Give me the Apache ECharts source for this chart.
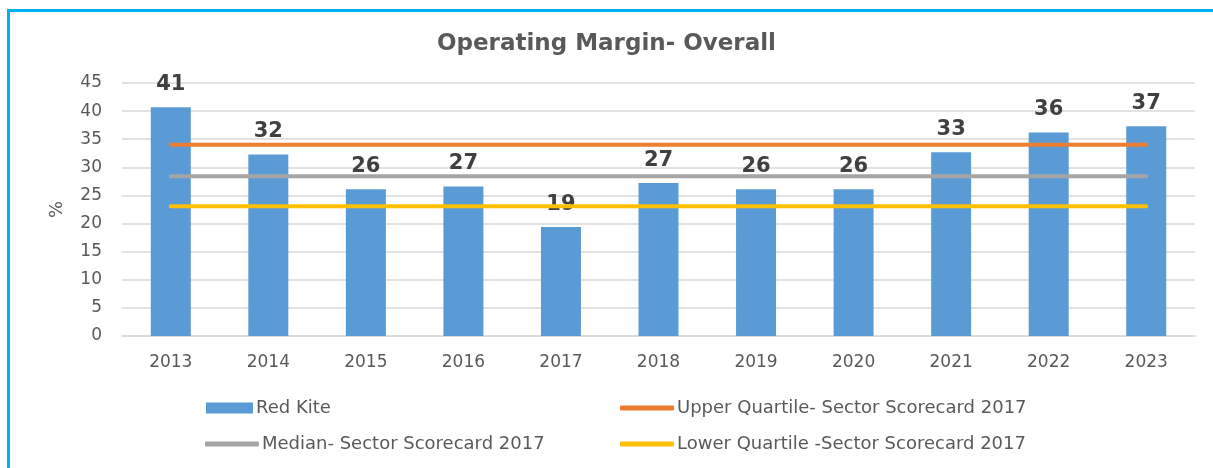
<!DOCTYPE html>
<html>
<head>
<meta charset="utf-8">
<script src="https://cdn.jsdelivr.net/npm/echarts@6/dist/echarts.min.js"></script>
<style>
html,body{margin:0;padding:0;background:#fff;overflow:hidden;}
#c{width:1213px;height:468px;}
</style>
</head>
<body>
<div id="c"></div>
<script>
const categories = ['2013','2014','2015','2016','2017','2018','2019','2020','2021','2022','2023'];
const redKite = [40.7, 32.3, 26.1, 26.6, 19.4, 27.2, 26.1, 26.1, 32.7, 36.2, 37.3];
const upperQuartile = [34.0, 34.0, 34.0, 34.0, 34.0, 34.0, 34.0, 34.0, 34.0, 34.0, 34.0];
const median = [28.4, 28.4, 28.4, 28.4, 28.4, 28.4, 28.4, 28.4, 28.4, 28.4, 28.4];
const lowerQuartile = [23.1, 23.1, 23.1, 23.1, 23.1, 23.1, 23.1, 23.1, 23.1, 23.1, 23.1];
const yTicks = [0, 5, 10, 15, 20, 25, 30, 35, 40, 45];

const textColor = '#595959';
const font = 'DejaVu Sans';
const chart = echarts.init(document.getElementById('c'));

function legendItem(name, left, top, w, h, icon) {
  return {
    data: [{name: name, icon: icon}],
    left: left, top: top, itemWidth: w, itemHeight: h, itemGap: 4,
    selectedMode: false,
    textStyle: {color: textColor, fontFamily: font, fontSize: 18, padding: [0,0,0,-2]}
  };
}

chart.setOption({
  animation: false,
  backgroundColor: '#fff',
  title: {
    text: 'Operating Margin- Overall',
    left: 'center', top: 28,
    textStyle: {color: textColor, fontFamily: font, fontSize: 23, fontWeight: 'bold'}
  },
  graphic: [
    {type: 'line', silent: true, shape: {x1: 8.5, y1: 10.5, x2: 1213, y2: 10.5},
     style: {stroke: '#00B0F0', lineWidth: 3}},
    {type: 'line', silent: true, shape: {x1: 8.5, y1: 9, x2: 8.5, y2: 468},
     style: {stroke: '#00B0F0', lineWidth: 3}}
  ],
  legend: [
    legendItem('Red Kite', 201, 394, 47, 11, 'rect'),
    legendItem('Median- Sector Scorecard 2017', 200, 430, 54, 5, 'roundRect'),
    legendItem('Upper Quartile- Sector Scorecard 2017', 615, 394, 54, 5, 'roundRect'),
    legendItem('Lower Quartile -Sector Scorecard 2017', 615, 430, 54, 5, 'roundRect')
  ],
  grid: {left: 122, right: 18, top: 83, bottom: 132},
  xAxis: {
    type: 'category', data: categories,
    axisLine: {lineStyle: {color: '#D9D9D9', width: 1.5}},
    axisTick: {show: false},
    axisLabel: {color: textColor, fontFamily: font, fontSize: 17, margin: 18}
  },
  yAxis: {
    type: 'value', min: yTicks[0], max: yTicks[yTicks.length-1], interval: 5,
    name: '%', nameLocation: 'middle', nameGap: 56, nameRotate: 90,
    nameTextStyle: {color: textColor, fontFamily: font, fontSize: 18},
    axisLine: {show: false}, axisTick: {show: false},
    splitLine: {lineStyle: {color: '#D9D9D9', width: 1.5}},
    axisLabel: {color: textColor, fontFamily: font, fontSize: 17, margin: 20}
  },
  series: [
    {
      name: 'Red Kite', type: 'bar', data: redKite, barWidth: 40,
      itemStyle: {color: '#5B9BD5'},
      label: {
        show: true, position: 'top', distance: 12,
        color: '#404040', fontFamily: 'DejaVu Sans', fontSize: 21, fontWeight: 'bold',
        formatter: p => Math.round(p.value)
      },
      z: 1
    },
    {
      name: 'Upper Quartile- Sector Scorecard 2017', type: 'line', data: upperQuartile,
      symbol: 'none', lineStyle: {color: '#ED7D31', width: 4, cap: 'round'},
      itemStyle: {color: '#ED7D31'}, z: 3
    },
    {
      name: 'Median- Sector Scorecard 2017', type: 'line', data: median,
      symbol: 'none', lineStyle: {color: '#A5A5A5', width: 4, cap: 'round'},
      itemStyle: {color: '#A5A5A5'}, z: 3
    },
    {
      name: 'Lower Quartile -Sector Scorecard 2017', type: 'line', data: lowerQuartile,
      symbol: 'none', lineStyle: {color: '#FFC000', width: 4, cap: 'round'},
      itemStyle: {color: '#FFC000'}, z: 3
    }
  ]
});
</script>
</body>
</html>
